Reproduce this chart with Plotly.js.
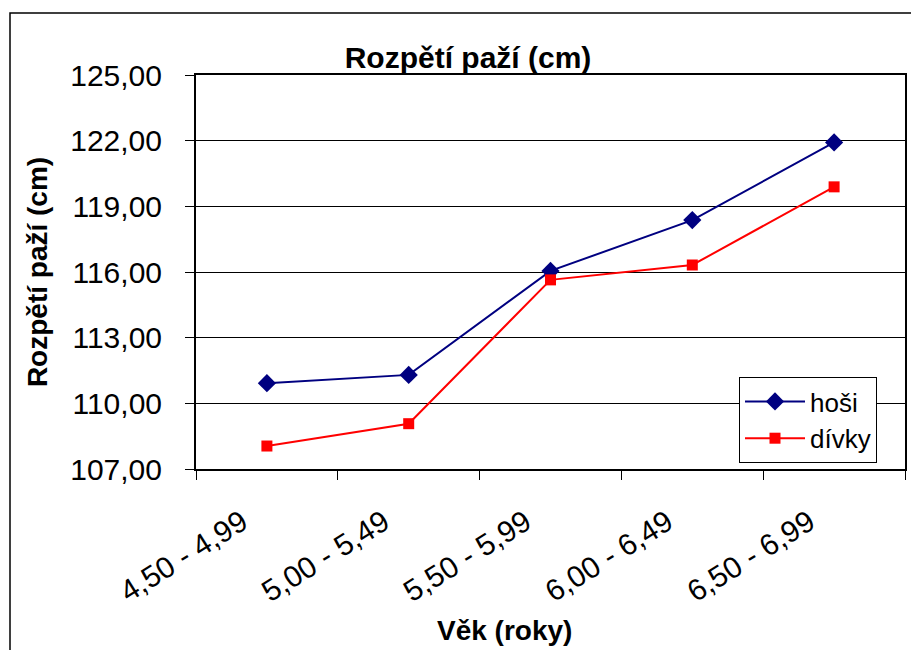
<!DOCTYPE html>
<html>
<head>
<meta charset="utf-8">
<script src="https://cdn.plot.ly/plotly-3.0.1.min.js"></script>
<style>html,body{margin:0;padding:0;background:#fff;}#chart{width:911px;height:650px;}</style>
</head>
<body>
<div id="chart"></div>
<script>
var categories = ["4,50 - 4,99", "5,00 - 5,49", "5,50 - 5,99", "6,00 - 6,49", "6,50 - 6,99"];
var hosi = [110.92, 111.30, 116.05, 118.37, 121.92];
var divky = [108.05, 109.07, 115.64, 116.32, 119.89];
var seriesNames = ["hoši", "dívky"];
var chartTitle = "Rozpětí paží (cm)";
var xTitle = "Věk (roky)";
var yTitle = "Rozpětí paží (cm)";

var FONT = "Liberation Sans, Arial, sans-serif";

var traces = [
  {x: categories, y: hosi, name: seriesNames[0], type: "scatter", mode: "lines+markers",
   line: {color: "#000080", width: 2}, marker: {symbol: "diamond", size: 14, color: "#000080"}},
  {x: categories, y: divky, name: seriesNames[1], type: "scatter", mode: "lines+markers",
   line: {color: "#ff0000", width: 2}, marker: {symbol: "square", size: 11, color: "#ff0000"}}
];

var layout = {
  width: 911, height: 650,
  margin: {l: 196, r: 6, t: 75, b: 181},
  paper_bgcolor: "#ffffff", plot_bgcolor: "#ffffff",
  separators: ", ",
  font: {family: FONT, color: "#000000", size: 30},
  title: {text: "<b>" + chartTitle + "</b>", font: {family: FONT, size: 30, color: "#000"},
          xref: "container", x: 468/911, xanchor: "center", yref: "container", y: 1 - 57/650, yanchor: "middle"},
  showlegend: true,
  legend: {x: (739-196)/709, y: (469-377)/394, xanchor: "left", yanchor: "top",
           bgcolor: "#ffffff", bordercolor: "#000000", borderwidth: 1,
           font: {family: FONT, size: 26, color: "#000"}, tracegroupgap: 4, itemwidth: 60},
  xaxis: {type: "category", range: [-0.5, 4.5], tickson: "boundaries", ticks: "outside", ticklen: 9,
          tickcolor: "#000", tickwidth: 1, showgrid: false, showline: true, linecolor: "#000",
          linewidth: 2, mirror: true, tickangle: -32, tickfont: {family: FONT, size: 30, color: "#000"},
          ticklabelshift: -25, ticklabelstandoff: 22, zeroline: false},
  yaxis: {range: [107, 125], dtick: 3, tick0: 107, tickformat: ".2f", ticks: "outside", ticklen: 9,
          tickcolor: "#000", tickwidth: 1, showgrid: true, gridcolor: "#000", gridwidth: 1,
          showline: true, linecolor: "#000", linewidth: 2, mirror: true, zeroline: false,
          tickfont: {family: FONT, size: 30, color: "#000"}, ticklabelstandoff: 17,
          title: {text: "<b>" + yTitle + "</b>", font: {family: FONT, size: 28, color: "#000"}, standoff: 14}},
  annotations: [
    {text: "<b>" + xTitle + "</b>", xref: "paper", yref: "paper", x: (504-196)/709, y: (469-630)/394,
     xanchor: "center", yanchor: "middle", showarrow: false, font: {family: FONT, size: 28, color: "#000"}}
  ],
  shapes: [
    {type: "rect", xref: "paper", yref: "paper", x0: (10-196)/709, x1: (940-196)/709,
     y0: (469-13)/394, y1: (469-700)/394, line: {color: "#000", width: 1.5}, fillcolor: "rgba(0,0,0,0)", layer: "below"}
  ]
};

Plotly.newPlot("chart", traces, layout, {displayModeBar: false, staticPlot: true});
</script>
</body>
</html>
